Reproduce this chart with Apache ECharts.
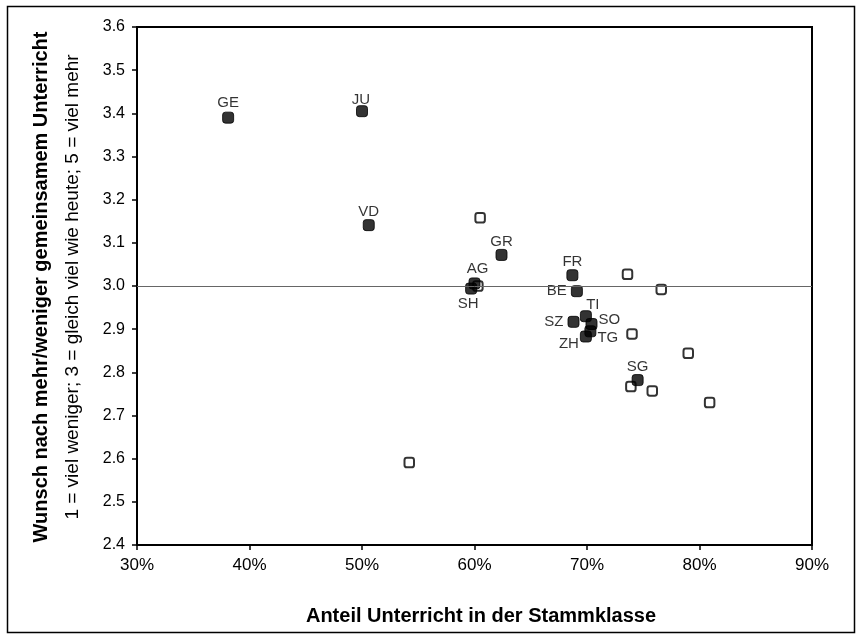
<!DOCTYPE html>
<html>
<head>
<meta charset="utf-8">
<script src="https://cdn.jsdelivr.net/npm/echarts@6/dist/echarts.min.js"></script>
<style>
  html, body { margin: 0; padding: 0; background: #fff; }
  #chart { width: 856px; height: 634px; }
</style>
</head>
<body>
<div id="chart"></div>
<script>
// Cantons with their share of lessons in the home class (%) and mean wish score
const cantons = ['GE', 'JU', 'VD', 'GR', 'AG', 'SH', 'FR', 'BE', 'TI', 'SZ', 'SO', 'TG', 'ZH', 'SG'];
const cantonShare = [38.1, 50.0, 50.6, 62.4, 60.0, 59.7, 68.7, 69.1, 69.9, 68.8, 70.4, 70.3, 69.9, 74.5];
const cantonWish = [3.39, 3.405, 3.141, 3.072, 3.006, 2.994, 3.025, 2.988, 2.930, 2.917, 2.912, 2.895, 2.883, 2.782];

// Unlabelled comparison points
const otherShare = [60.5, 60.3, 73.6, 76.6, 74.0, 79.0, 73.9, 75.8, 80.9, 54.2];
const otherWish = [3.158, 3.0, 3.027, 2.992, 2.889, 2.844, 2.767, 2.757, 2.730, 2.591];

// Axis ranges and reference level
const xTicks = { min: 30, max: 90, step: 10 };
const yTicks = { min: 2.4, max: 3.6, step: 0.1 };
const neutralLevel = 3.0;

// Where each canton's label sits relative to its marker
const labelPlacement = {
  GE: { position: 'top', distance: 1 },
  JU: { position: 'top', distance: 0, shift: [-1, 2] },
  AG: { position: 'top', distance: 1, shift: [3, 0] },
  SH: { position: 'bottom', distance: 2, shift: [-3, 0] },
  BE: { position: 'left', distance: 4 },
  SZ: { position: 'left', distance: 4 },
  SO: { position: 'right', distance: 1, shift: [0, -4] },
  TG: { position: 'right', distance: 1, shift: [0, 7] },
  ZH: { position: 'left', distance: 1, shift: [0, 7] },
  TI: { position: 'top', distance: 1, shift: [7, 3] }
};
const defaultPlacement = { position: 'top', distance: 0 };

const labelled = cantons.map((name, i) => {
  const p = labelPlacement[name] || defaultPlacement;
  return {
    name: name,
    value: [cantonShare[i], cantonWish[i]],
    label: { show: true, position: p.position, distance: p.distance }
  };
});
const others = otherShare.map((x, i) => [x, otherWish[i]]);

const textFont = 'Liberation Sans, Arial, sans-serif';
const chart = echarts.init(document.getElementById('chart'), null, { renderer: 'canvas' });

chart.setOption({
  animation: false,
  backgroundColor: '#fff',
  grid: {
    left: 137, right: 44, top: 27, bottom: 89,
    show: true, borderColor: '#000', borderWidth: 2, backgroundColor: 'transparent'
  },
  xAxis: {
    type: 'value',
    min: xTicks.min, max: xTicks.max, interval: xTicks.step,
    axisLine: { show: true, onZero: false, lineStyle: { color: '#000', width: 2 } },
    axisTick: { show: true, length: 5, lineStyle: { color: '#000', width: 1.5 } },
    axisLabel: { color: '#000', fontSize: 17, fontFamily: textFont, margin: 12, formatter: '{value}%' },
    splitLine: { show: false }
  },
  yAxis: {
    type: 'value',
    min: yTicks.min, max: yTicks.max, interval: yTicks.step,
    axisLine: { show: true, onZero: false, lineStyle: { color: '#000', width: 2 } },
    axisTick: { show: true, length: 5, lineStyle: { color: '#000', width: 1.5 } },
    axisLabel: { color: '#000', fontSize: 16, fontFamily: textFont, margin: 12,
      formatter: v => v.toFixed(1) },
    splitLine: { show: false }
  },
  graphic: [
    {
      type: 'rect', silent: true,
      shape: { x: 7.5, y: 6.5, width: 847, height: 626 },
      style: { fill: 'none', stroke: '#000', lineWidth: 1.5 }
    },
    {
      type: 'text', x: 41, y: 287, rotation: Math.PI / 2,
      style: {
        text: 'Wunsch nach mehr/weniger gemeinsamem Unterricht',
        font: 'bold 20px ' + textFont, fill: '#000', align: 'center', verticalAlign: 'middle'
      }
    },
    {
      type: 'text', x: 73, y: 287, rotation: Math.PI / 2,
      style: {
        text: '1 = viel weniger; 3 = gleich viel wie heute; 5 = viel mehr',
        font: '19px ' + textFont, fill: '#000', align: 'center', verticalAlign: 'middle'
      }
    },
    {
      type: 'text', x: 481, y: 616,
      style: {
        text: 'Anteil Unterricht in der Stammklasse',
        font: 'bold 20px ' + textFont, fill: '#000', align: 'center', verticalAlign: 'middle'
      }
    }
  ],
  series: [
    {
      type: 'scatter',
      data: others,
      symbol: 'roundRect',
      symbolSize: 9.5,
      itemStyle: { color: '#fff', borderColor: '#000', borderWidth: 2 },
      markLine: {
        silent: true, symbol: 'none',
        label: { show: false },
        lineStyle: { color: '#666', width: 1, type: 'solid' },
        data: [{ yAxis: neutralLevel }]
      },
      z: 2
    },
    {
      type: 'scatter',
      data: labelled,
      symbol: 'roundRect',
      symbolSize: 11,
      itemStyle: { color: '#000', borderColor: '#000', borderWidth: 1 },
      label: {
        show: true,
        formatter: '{b}',
        color: '#000',
        fontSize: 15,
        fontFamily: textFont
      },
      // nudge crowded labels away from neighbouring markers
      labelLayout: function (params) {
        const p = labelPlacement[cantons[params.dataIndex]];
        const s = (p && p.shift) || [0, 0];
        return { dx: s[0], dy: s[1], hideOverlap: false };
      },
      z: 3
    }
  ]
});
</script>
</body>
</html>
